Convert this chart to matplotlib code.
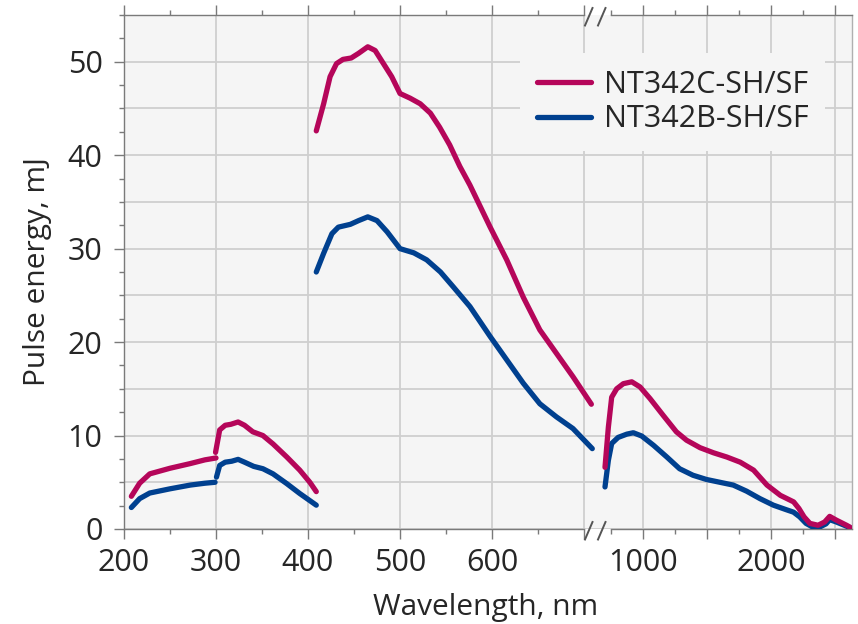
import matplotlib
matplotlib.use("Agg")
import matplotlib.pyplot as plt
from matplotlib.ticker import FixedLocator, FixedFormatter, MultipleLocator, NullFormatter
from matplotlib.lines import Line2D
import numpy as np

plt.rcParams['font.family'] = ['Open Sans', 'DejaVu Sans']

# ---------------- data ----------------
series_names = ["NT342C-SH/SF", "NT342B-SH/SF"]

# UV SH segment (210-300 nm)
uv1_wl_c = [208, 217, 228, 250, 272, 288, 300]
uv1_c = [3.5, 4.9, 5.9, 6.5, 7.0, 7.4, 7.6]
uv1_wl_b = [208, 217, 228, 250, 272, 288, 299]
uv1_b = [2.3, 3.25, 3.85, 4.3, 4.7, 4.9, 5.0]

# UV SF segment (300-410 nm)
uv2_wl_c = [299.5, 304, 310, 316, 324, 331, 340, 351, 362, 377, 391, 402, 409]
uv2_c = [8.2, 10.6, 11.1, 11.2, 11.45, 11.1, 10.4, 10.0, 9.1, 7.7, 6.3, 5.0, 4.0]
uv2_wl_b = [300.5, 304, 310, 317, 324, 331, 341, 351, 362, 377, 391, 409]
uv2_b = [5.55, 6.8, 7.15, 7.25, 7.45, 7.15, 6.7, 6.45, 5.9, 4.85, 3.8, 2.55]

# Visible signal (410-710 nm)
vis_wl_c = [409, 417, 424, 431, 438, 447, 455, 465, 473, 482, 491, 500, 511, 522,
            533, 543, 554, 565, 576, 598, 616, 634, 652, 670, 688, 708]
vis_c = [42.6, 45.5, 48.4, 49.8, 50.25, 50.4, 50.9, 51.6, 51.2, 49.8, 48.4, 46.6, 46.1,
         45.5, 44.5, 43.0, 41.1, 38.8, 36.8, 32.3, 28.8, 24.8, 21.3, 18.8, 16.3, 13.35]
vis_wl_b = [409, 417, 426, 433, 446, 455, 465, 475, 486, 500, 515, 529, 544, 558,
            576, 598, 616, 634, 652, 670, 688, 709]
vis_b = [27.5, 29.5, 31.6, 32.3, 32.6, 33.0, 33.4, 33.0, 31.8, 30.0, 29.55, 28.8, 27.5,
         25.9, 23.8, 20.6, 18.1, 15.6, 13.4, 12.0, 10.75, 8.6]

# IR idler (log part)
ir_wl_c = [814, 829, 844, 867, 899, 941, 984, 1039, 1116, 1198, 1266, 1362, 1466, 1575,
           1693, 1820, 1957, 2104, 2261, 2326, 2392, 2469, 2580, 2674, 2748, 2849, 3011, 3066]
ir_c = [6.6, 10.9, 14.1, 15.0, 15.55, 15.75, 15.2, 13.95, 12.15, 10.4, 9.5, 8.7, 8.15, 7.7,
        7.15, 6.3, 4.7, 3.6, 2.9, 2.2, 1.3, 0.6, 0.4, 0.75, 1.35, 0.95, 0.4, 0.2]
ir_wl_b = [814, 829, 844, 874, 916, 949, 993, 1059, 1138, 1219, 1311, 1410, 1516, 1630,
           1752, 1884, 2026, 2177, 2260, 2336, 2418, 2508, 2600, 2694, 2748, 2849, 3011, 3066]
ir_b = [4.5, 7.35, 9.15, 9.8, 10.15, 10.3, 9.95, 8.95, 7.7, 6.45, 5.75, 5.3, 5.0, 4.7,
        4.05, 3.25, 2.55, 2.05, 1.8, 1.3, 0.6, 0.2, 0.2, 0.55, 1.0, 0.75, 0.3, 0.15]

left_major = [200, 300, 400, 500, 600, 700]
left_labels = ["200", "300", "400", "500", "600", ""]
right_major = [1000, 1414.2, 2000, 2828.4]
right_labels = ["1000", "", "2000", ""]
right_minor = [840.9, 1189.2, 1681.8, 2378.4]
y_labels_step = 10
y_grid = [5, 15, 25, 35, 45]

# ---------------- style ----------------
RED = "#B5065A"
BLUE = "#00408F"
BG = "#F5F5F5"
GRID = "#CFCFCF"
SPINE = "#7A7A7A"
TXT = "#262626"
LW = 3.8
FS = 22

W, H = 858, 624
fig = plt.figure(figsize=(W / 100, H / 100), dpi=100)

def fx(px):
    return px / W

def fy(py):
    return 1 - py / H

x0, xb, x1 = 124, 597, 852
yt, yb = 15, 529
ax1 = fig.add_axes([fx(x0), fy(yb), fx(xb - x0), (yb - yt) / H])
ax2 = fig.add_axes([fx(xb), fy(yb), fx(x1 - xb), (yb - yt) / H], sharey=ax1)

for ax in (ax1, ax2):
    ax.set_facecolor(BG)
    ax.set_ylim(0, 55)
    for yg in y_grid:
        ax.axhline(yg, color=GRID, lw=1.3, zorder=0.5)
    ax.grid(True, which='major', color=GRID, lw=1.3, zorder=0.5)
    ax.set_axisbelow(True)
    ax.tick_params(which='both', direction='out', colors=SPINE, labelcolor=TXT,
                   labelsize=FS, top=True, width=1.0)
    ax.tick_params(which='major', length=7.5, pad=6)
    ax.tick_params(which='minor', length=3.8)
    for s in ax.spines.values():
        s.set_color(SPINE)
        s.set_linewidth(1.0)

# left (linear) part
ax1.set_xlim(200, 200 + (xb - x0) / 0.92)
ax1.xaxis.set_major_locator(FixedLocator(left_major))
ax1.xaxis.set_major_formatter(FixedFormatter(left_labels))
ax1.xaxis.set_minor_locator(MultipleLocator(50))
ax1.yaxis.set_major_locator(MultipleLocator(y_labels_step))
ax1.yaxis.set_minor_locator(MultipleLocator(2.5))
ax1.tick_params(axis='y', pad=8)
ax1.spines['right'].set_visible(False)
ax1.spines['top'].set_bounds(200, 700)
ax1.spines['bottom'].set_bounds(200, 700)

# right (log) part
ax2.set_xscale('log')
ax2.set_xlim(1000 * 2 ** ((xb - 643) / 128), 1000 * 2 ** ((x1 - 643) / 128))
ax2.xaxis.set_major_locator(FixedLocator(right_major))
ax2.xaxis.set_major_formatter(FixedFormatter(right_labels))
ax2.xaxis.set_minor_locator(FixedLocator(right_minor))
ax2.xaxis.set_minor_formatter(NullFormatter())
ax2.tick_params(axis='y', which='both', left=False, right=False, labelleft=False)
ax2.spines['left'].set_visible(False)
ax2.spines['right'].set_color("#B0B0B0")
ax2.spines['top'].set_bounds(840.9, ax2.get_xlim()[1])
ax2.spines['bottom'].set_bounds(840.9, ax2.get_xlim()[1])

kw = dict(lw=LW, solid_capstyle='round', solid_joinstyle='round', zorder=3)
for wl, v in [(uv1_wl_b, uv1_b), (uv2_wl_b, uv2_b), (vis_wl_b, vis_b)]:
    ax1.plot(wl, v, color=BLUE, **kw)
for wl, v in [(uv1_wl_c, uv1_c), (uv2_wl_c, uv2_c), (vis_wl_c, vis_c)]:
    ax1.plot(wl, v, color=RED, **kw)
ax2.plot(ir_wl_b, ir_b, color=BLUE, **kw)
ax2.plot(ir_wl_c, ir_c, color=RED, **kw)

ax1.set_ylabel("Pulse energy, mJ", fontsize=21.5, color=TXT, labelpad=11)
fig.text(fx(486), fy(607), "Wavelength, nm", fontsize=21.5, color=TXT,
         ha='center', va='center')

# break marks
for ys in (yt, yb):
    for xs in (585, 598):
        fig.add_artist(Line2D([fx(xs), fx(xs + 7.5)], [fy(ys + 10.5), fy(ys - 7)],
                              color="#555555", lw=1.4, transform=fig.transFigure))

handles = [Line2D([], [], color=RED, lw=LW, solid_capstyle='round'),
           Line2D([], [], color=BLUE, lw=LW, solid_capstyle='round')]
leg = fig.legend(handles, series_names, loc='upper left',
                 bbox_to_anchor=(fx(520), fy(53)), borderaxespad=0,
                 fontsize=FS, frameon=True, facecolor=BG, edgecolor='none',
                 framealpha=1, fancybox=False, borderpad=0.55,
                 handlelength=1.77, handletextpad=0.42, labelspacing=0.15)
for t in leg.get_texts():
    t.set_color(TXT)

fig.savefig("out.png", dpi=100, facecolor='white')
